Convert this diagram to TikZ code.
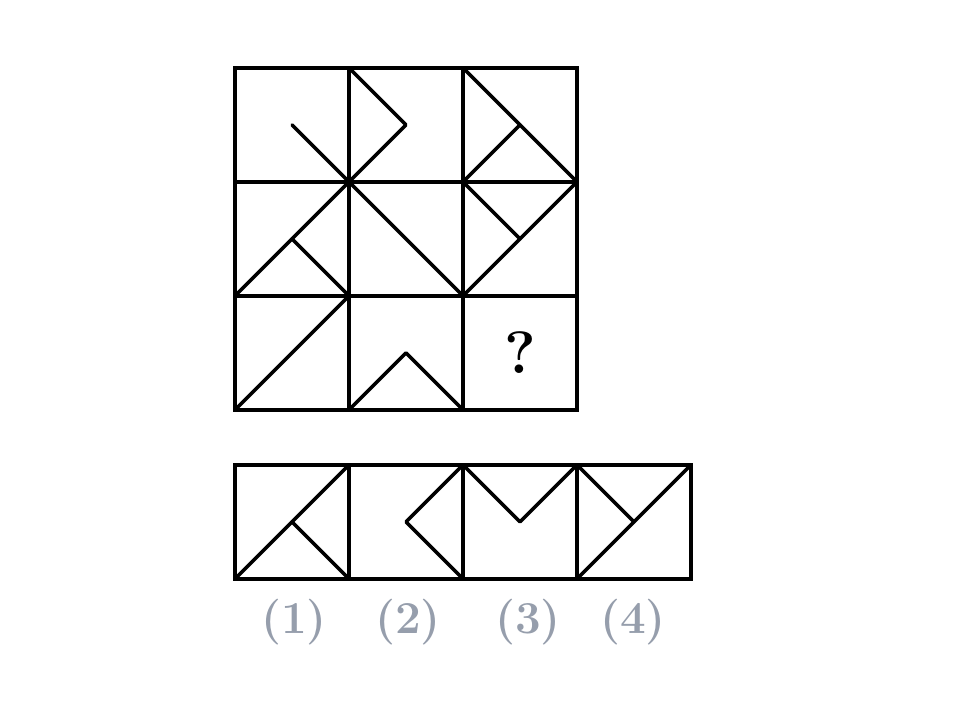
\documentclass[tikz,border=0pt]{standalone}
\usepackage{tikz}
\usepackage{xcolor}
\definecolor{labelgray}{RGB}{150,158,172}

\begin{document}
\begin{tikzpicture}[
    frame/.style={draw=black, line width=1.1pt},
    figline/.style={draw=black, line width=1pt, line cap=round, line join=round},
    qmark/.style={font=\fontsize{17}{19}\selectfont\bfseries},
    optlabel/.style={font=\fontsize{13}{15}\selectfont\bfseries, text=labelgray}
]
    \useasboundingbox (0,0) rectangle (9.6,7.2);

    % Puzzle grid (3x3)
    \begin{scope}[shift={(2.35,3.10)}, scale=1.14]
        \draw[frame] (0,0) rectangle (3,3);
        \foreach \k in {1,2} {
            \draw[frame] (\k,0) -- (\k,3);
            \draw[frame] (0,\k) -- (3,\k);
        }
        % row 1
        \draw[figline] (0.5,2.5) -- (1,2);
        \draw[figline] (1,3) -- (1.5,2.5) -- (1,2);
        \draw[figline] (2,3) -- (3,2);
        \draw[figline] (2.5,2.5) -- (2,2);
        % row 2
        \draw[figline] (0,1) -- (1,2);
        \draw[figline] (0.5,1.5) -- (1,1);
        \draw[figline] (1,2) -- (2,1);
        \draw[figline] (3,2) -- (2,1);
        \draw[figline] (2,2) -- (2.5,1.5);
        % row 3
        \draw[figline] (0,0) -- (1,1);
        \draw[figline] (1,0) -- (1.5,0.5) -- (2,0);
        \node[qmark] (qm) at (2.5,0.5) {?};
    \end{scope}

    % Answer options
    \begin{scope}[shift={(2.35,1.41)}, scale=1.14]
        \draw[frame] (0,0) rectangle (4,1);
        \foreach \k in {1,2,3}
            \draw[frame] (\k,0) -- (\k,1);
        \draw[figline] (0,0) -- (1,1);
        \draw[figline] (0.5,0.5) -- (1,0);
        \draw[figline] (2,1) -- (1.5,0.5) -- (2,0);
        \draw[figline] (2,1) -- (2.5,0.5) -- (3,1);
        \draw[figline] (3,0) -- (4,1);
        \draw[figline] (3,1) -- (3.5,0.5);
    \end{scope}

    % Option labels
    \node[optlabel] (lab1) at (2.94,0.98) {(1)};
    \node[optlabel] (lab2) at (4.08,0.98) {(2)};
    \node[optlabel] (lab3) at (5.28,0.98) {(3)};
    \node[optlabel] (lab4) at (6.33,0.98) {(4)};

\end{tikzpicture}
\end{document}
